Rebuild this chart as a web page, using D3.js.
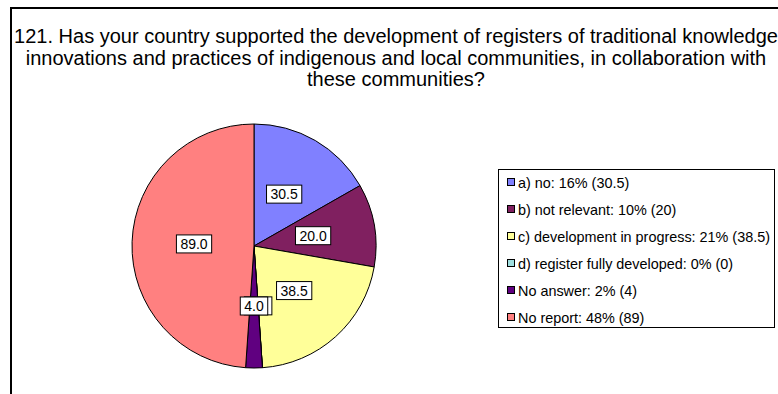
<!DOCTYPE html>
<html>
<head>
<meta charset="utf-8">
<script src="https://cdn.jsdelivr.net/npm/d3@7"></script>
<style>
html,body{margin:0;padding:0;background:#fff;}
svg{display:block;font-family:Arial,"Liberation Sans",sans-serif;}
</style>
</head>
<body>
<svg id="chart" width="778" height="394"></svg>
<script>
const titleLines = [
  "121. Has your country supported the development of registers of traditional knowledge",
  "innovations and practices of indigenous and local communities, in collaboration with",
  "these communities?"
];
const categories = ["a) no", "b) not relevant", "c) development in progress", "d) register fully developed", "No answer", "No report"];
const values = [30.5, 20, 38.5, 0, 4, 89];
const percents = ["16%", "10%", "21%", "0%", "2%", "48%"];
const valueLabels = ["30.5", "20", "38.5", "0", "4", "89"];
const colors = ["#8080FF", "#802060", "#FFFF99", "#A0E0E0", "#600080", "#FF8080"];

const svg = d3.select("#chart");

// outer frame
svg.append("rect").attr("x", 11).attr("y", 8).attr("width", 900).attr("height", 500)
  .attr("fill", "none").attr("stroke", "#000").attr("stroke-width", 2);

// title
const title = svg.append("text").attr("text-anchor", "middle").attr("font-size", 20).attr("fill", "#000");
titleLines.forEach((t, i) => {
  title.append("tspan").attr("x", 396).attr("y", 43 + i * 21.5).text(t);
});

// pie
const cx = 254, cy = 246, R = 122;
const data = categories.map((c, i) => ({cat: c, value: values[i], color: colors[i], i}));
const pie = d3.pie().value(d => d.value).sort(null).startAngle(0).endAngle(2 * Math.PI);
const arcs = pie(data);
const arc = d3.arc().innerRadius(0).outerRadius(R);
const g = svg.append("g").attr("transform", `translate(${cx},${cy})`);
g.selectAll("path").data(arcs).enter().append("path")
  .attr("d", arc).attr("fill", d => d.data.color)
  .attr("stroke", "#000").attr("stroke-width", 1).attr("stroke-linejoin", "round");

// value labels
const lg = g.append("g").attr("font-size", 14);
arcs.forEach(a => {
  const mid = (a.startAngle + a.endAngle) / 2;
  const r = 60;
  const x = r * Math.sin(mid), y = -r * Math.cos(mid);
  const lab = lg.append("g").attr("transform", `translate(${x},${y})`);
  const txt = d3.format(".1f")(a.data.value);
  const t = lab.append("text").attr("text-anchor", "middle").attr("dy", "0.36em").text(txt);
  const w = t.node().getComputedTextLength();
  lab.insert("rect", "text").attr("x", -w / 2 - 4).attr("y", -9).attr("width", w + 8).attr("height", 18)
    .attr("fill", "#fff").attr("stroke", "#000").attr("stroke-width", 1);
  // zero-value label is fully covered by its neighbour in the reference: keep only its box
  if (a.data.value === 0) t.remove();
});

// legend
const legX = 498.5, legY = 169.5, legW = 276, legH = 158;
svg.append("rect").attr("x", legX).attr("y", legY).attr("width", legW).attr("height", legH)
  .attr("fill", "#fff").attr("stroke", "#000").attr("stroke-width", 1);
const leg = svg.append("g").attr("font-size", 14.4);
data.forEach((d, i) => {
  const y = 183 + i * 27;
  leg.append("rect").attr("x", 507.5).attr("y", y - 4.5).attr("width", 7).attr("height", 7)
    .attr("fill", d.color).attr("stroke", "#000").attr("stroke-width", 1);
  leg.append("text").attr("x", 518).attr("y", y).attr("dy", "0.35em")
    .text(`${d.cat}: ${percents[i]} (${valueLabels[i]})`);
});
</script>
</body>
</html>
